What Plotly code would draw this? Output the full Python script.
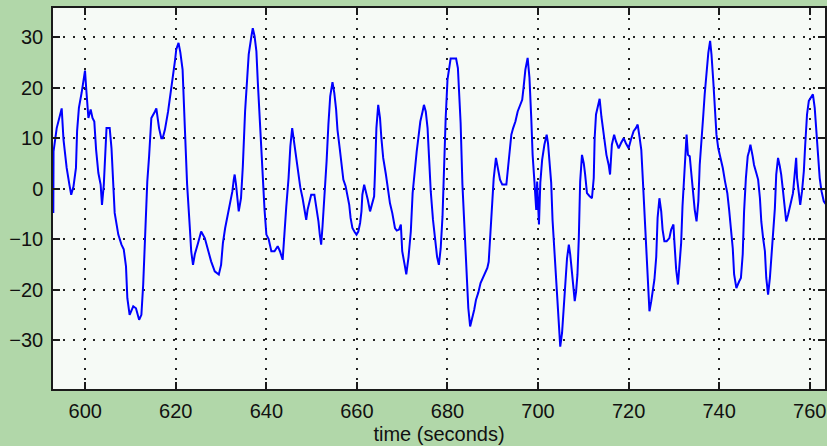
import plotly.graph_objects as go

time_s = [592.95, 593.0, 593.7, 594.3, 594.8, 595.2, 595.9, 596.5, 596.9, 597.4, 597.95, 598.2, 598.6, 599.2, 599.6, 599.95,
          600.2, 600.7, 601.2, 601.6, 602.0, 602.4, 602.9, 603.4, 603.7, 604.1, 604.7, 605.4, 605.8, 606.5, 607.3, 608.0,
          608.5, 609.0, 609.3, 609.8, 610.6, 611.2, 611.9, 612.4, 612.8, 613.3, 613.7, 614.1, 614.6, 615.4, 615.7, 616.3,
          616.8, 617.1, 617.6, 618.3, 618.8, 619.3, 619.8, 620.1, 620.6, 621.0, 621.5, 622.0, 622.5, 623.1, 623.4, 623.8,
          624.2, 624.9, 625.6, 626.4, 627.1, 627.8, 628.6, 629.5, 630.0, 630.4, 630.9, 631.5, 632.0, 632.5, 632.8, 633.0,
          633.3, 633.7, 633.9, 634.4, 634.8, 635.3, 635.8, 636.1, 636.7, 637.0, 637.4, 637.8, 638.1, 638.6, 639.1, 639.6,
          640.0, 640.5, 641.1, 641.8, 642.5, 643.0, 643.6, 644.0, 644.4, 644.9, 645.3, 645.7, 646.0, 646.6, 647.1, 647.5,
          648.0, 648.4, 648.8, 649.1, 649.5, 649.9, 650.6, 651.0, 651.5, 651.8, 652.1, 652.4, 652.8, 653.3, 653.7, 654.1,
          654.6, 655.0, 655.4, 655.7, 656.2, 656.6, 657.0, 657.5, 657.9, 658.3, 658.6, 659.0, 659.5, 659.9, 660.3, 660.7,
          661.0, 661.2, 661.6, 662.0, 662.4, 662.9, 663.3, 663.8, 664.0, 664.3, 664.7, 665.1, 665.4, 665.8, 666.4, 666.9,
          667.3, 667.8, 668.4, 668.8, 669.3, 669.7, 670.0, 670.6, 670.9, 671.4, 671.9, 672.3, 672.8, 673.2, 673.6, 674.0,
          674.5, 674.8, 675.2, 675.6, 675.9, 676.3, 676.8, 677.2, 677.7, 678.1, 678.5, 678.9, 679.2, 679.6, 680.0, 680.3,
          680.7, 681.4, 681.9, 682.3, 682.5, 682.9, 683.3, 683.8, 684.2, 684.6, 685.0, 685.5, 685.9, 686.3, 686.8, 687.3,
          687.8, 688.3, 688.8, 689.1, 689.5, 689.9, 690.2, 690.7, 691.1, 691.6, 692.1, 693.0, 693.3, 693.7, 694.1, 694.5,
          695.0, 695.5, 696.0, 696.5, 696.8, 697.2, 697.7, 698.1, 698.5, 698.8, 699.2, 699.6, 699.8, 700.2, 700.5, 700.9,
          701.4, 701.9, 702.2, 702.5, 702.9, 703.2, 703.7, 704.2, 704.6, 704.9, 705.3, 705.7, 706.0, 706.4, 706.8, 707.1,
          707.5, 707.9, 708.1, 708.4, 708.7, 709.0, 709.3, 709.7, 710.1, 710.4, 710.8, 711.4, 711.9, 712.3, 712.5, 712.8,
          713.2, 713.6, 714.0, 714.6, 715.1, 715.6, 715.9, 716.3, 716.8, 717.2, 717.8, 718.3, 718.9, 719.4, 720.0, 720.5,
          721.1, 721.6, 722.0, 722.4, 722.8, 723.1, 723.5, 723.9, 724.2, 724.6, 725.0, 725.3, 725.7, 726.1, 726.4, 726.8,
          727.2, 727.5, 727.9, 728.4, 729.0, 729.4, 729.9, 730.1, 730.5, 730.9, 731.2, 731.6, 731.9, 732.4, 732.8, 733.1,
          733.5, 733.8, 734.2, 734.6, 735.0, 735.4, 735.7, 736.1, 736.5, 736.8, 737.2, 737.6, 738.0, 738.3, 738.7, 739.1,
          739.4, 739.8, 740.3, 740.8, 741.3, 741.8, 742.2, 742.6, 743.0, 743.3, 743.8, 744.4, 744.8, 745.2, 745.5, 745.9,
          746.3, 746.6, 746.9, 747.4, 747.7, 748.2, 748.6, 749.0, 749.3, 749.7, 750.1, 750.4, 750.8, 751.2, 751.5, 751.9,
          752.3, 752.6, 753.0, 753.4, 753.7, 754.1, 754.5, 754.8, 755.2, 755.6, 755.9, 756.3, 756.7, 757.0, 757.2, 757.6,
          757.9, 758.3, 758.7, 759.0, 759.4, 759.8, 760.2, 760.7, 761.1, 761.5, 761.8, 762.2, 762.6, 763.1, 763.5]

signal = [-4.8, 7.4, 12, 14.3, 15.9, 9.7, 4.1, 0.8, -1.2, 0.4, 4.1, 11.4, 16, 19, 21.3, 23.4,
          20, 14, 15.7, 14, 13.3, 7.7, 3.1, 0.8, -3.2, 0.8, 12, 12, 8, -4.8, -9.1, -11.1,
          -12, -15.4, -21.7, -25, -23.3, -23.7, -26, -25, -19, -6.8, 1.4, 6.4, 14, 15.3, 15.9, 12,
          10, 10, 11.7, 15.3, 18.3, 21.6, 25.2, 27.6, 28.9, 27, 23.6, 12, 0.8, -7.8, -12.4, -15.1,
          -13, -10.8, -8.5, -9.8, -12.4, -14.4, -16.4, -17, -15.1, -10.8, -7.8, -5.2, -2.5, -0.5, 1.8, 2.8,
          0.8, -2.5, -4.5, -1.9, 4.4, 15.3, 22.6, 26.6, 30.2, 31.8, 30.2, 27.2, 21.3, 12.3, 3.4, -4.2,
          -9.1, -10, -12.4, -12.4, -11.4, -12.4, -14.1, -7.8, -3.5, 2.1, 8.4, 12, 10, 6.1, 2.8, 0.2,
          -1.9, -4.2, -6.2, -4.2, -2.9, -1.2, -1.2, -3.2, -6.5, -9.1, -11.1, -7.5, -2.2, 5.4, 12.7, 18.3,
          21.1, 19, 15.7, 11.7, 8, 4.4, 1.8, 0.5, -1.2, -3.2, -5.8, -7.8, -8.6, -9.1, -8.5, -6.8,
          -4.5, -1.2, 0.8, -0.5, -2.2, -4.5, -2.9, -1.5, 3.5, 12, 16.6, 14, 10, 6.1, 2.8, -0.5,
          -2.9, -4.8, -7.8, -8.3, -8.1, -7.1, -12.4, -15.4, -17, -13.5, -8.5, -0.9, 4.1, 7.4, 10.3, 13.3,
          15.3, 16.6, 15.3, 12, 6.7, -0.5, -6.2, -9.8, -13.5, -15.1, -11.8, -5.5, 4.7, 14, 21.6, 23.9,
          25.8, 25.8, 25.8, 23.9, 20.6, 13, 0.8, -8.1, -15.7, -23.7, -27.3, -25.7, -24, -22, -20.6, -18.7,
          -17.7, -17, -15.7, -14.5, -9, -3.5, 2, 6.1, 4.1, 1.8, 0.8, 0.8, 3.5, 8, 10.7, 12,
          13.3, 15.3, 16.6, 17.6, 20, 23.6, 25.9, 22, 14, 6.7, 1.4, -4.2, 1.4, -7.1, 1.2, 5.7,
          8.7, 10.7, 9, 6.1, 1.2, -6.2, -13.5, -20.4, -27.3, -31.3, -28.6, -23.3, -18.4, -13.8, -11.1, -13,
          -16.7, -20.4, -22.3, -20.4, -17, -9.8, 1.4, 6.7, 5, 2.8, -0.9, -1.5, -1.9, 2.1, 10, 14.7,
          16.6, 17.8, 14.2, 10.3, 6.7, 4.7, 2.8, 8.7, 10.7, 9.4, 8, 9, 10, 9, 8, 9.7,
          11.4, 12, 12.7, 10.3, 7.7, 2.5, -4.5, -12, -19.6, -24.3, -22.3, -20.4, -18, -13.5, -5.8, -1.9,
          -4.5, -8.1, -10.4, -10.4, -9.8, -8.1, -7.1, -10.4, -16, -19, -16, -10.8, -3.5, 6.1, 10.7, 6.7,
          6.4, 3.5, -0.5, -4.2, -6.5, -2.5, 4.7, 10.7, 14.7, 18.7, 23, 26.9, 29.3, 26.6, 21.3, 16,
          10.7, 8, 6.1, 4.1, 1.4, -0.9, -4.2, -7.5, -11.8, -17, -19.7, -18.4, -17.7, -13, -4.5, 2.1,
          6.4, 7.4, 8.7, 6.4, 4.7, 3.1, 1.8, -1.9, -6.5, -9.8, -12.4, -17.7, -21, -17.7, -13.8, -9.1,
          -3.9, 2.8, 6.1, 4.4, 2.8, -0.5, -3.9, -6.5, -5.2, -3.9, -2.5, -0.9, 3.5, 6.1, 2.1, -0.9,
          -3.2, -0.5, 3.5, 8.7, 14.7, 17.4, 18, 18.7, 16, 10.7, 6.1, 2.1, -0.5, -2.5, -3]

x_ticks = [600, 620, 640, 660, 680, 700, 720, 740, 760]
y_ticks = [-30, -20, -10, 0, 10, 20, 30]
x_title = "time (seconds)"

AX = "#1a1a1a"

fig = go.Figure()
fig.add_trace(go.Scatter(x=time_s, y=signal, mode="lines",
                         line=dict(color="#0000ff", width=2),
                         hoverinfo="skip", showlegend=False))

fig.update_layout(
    width=827, height=446,
    margin=dict(l=53, r=0, t=8, b=57),
    paper_bgcolor="#b1d7a9",
    plot_bgcolor="#f6faf6",
    font=dict(family="Liberation Sans, Arial, sans-serif", size=20, color="#111111"),
    showlegend=False,
)
fig.update_xaxes(
    range=[592.88, 763.37], tickvals=x_ticks, ticktext=[str(v) for v in x_ticks],
    ticks="inside", ticklen=7, tickwidth=1.5, tickcolor=AX,
    showline=True, linecolor=AX, linewidth=1.5, mirror="ticks",
    showgrid=True, gridcolor="#222222", gridwidth=1.6, griddash="2px,8px",
    zeroline=False, ticklabelstandoff=3,
    title=dict(text=x_title, font=dict(size=20), standoff=6),
)
fig.update_yaxes(
    range=[-39.7, 35.8], tickvals=y_ticks,
    ticks="inside", ticklen=7, tickwidth=1.5, tickcolor=AX,
    showline=True, linecolor=AX, linewidth=1.5, mirror="ticks",
    showgrid=True, gridcolor="#222222", gridwidth=1.6, griddash="2px,8px",
    zeroline=False, ticklabelstandoff=4,
)

fig.write_html("out.html")
